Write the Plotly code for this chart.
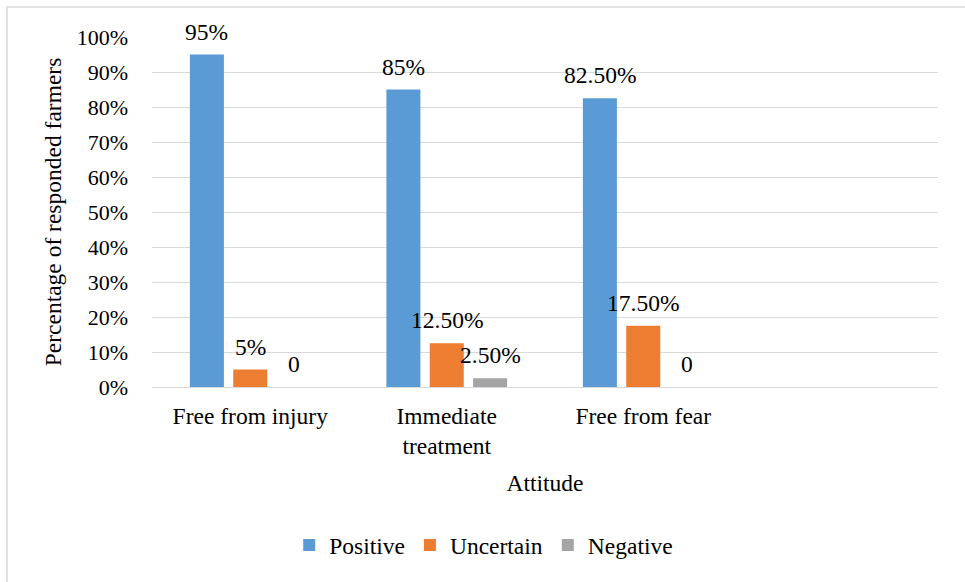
import plotly.graph_objects as go

# Survey results: farmers' attitude toward animal welfare aspects
categories = ["Free from injury", "Immediate<br>treatment", "Free from fear"]
positive = [0.95, 0.85, 0.825]
uncertain = [0.05, 0.125, 0.175]
negative = [0.0, 0.025, 0.0]

series_names = ["Positive", "Uncertain", "Negative"]
series_values = [positive, uncertain, negative]
series_colors = ["#5B9BD5", "#ED7D31", "#A5A5A5"]

y_tick_values = [i / 10 for i in range(11)]

FONT = "Liberation Serif"
FS = 23.5       # labels, titles, legend
FS_TICK_Y = 22  # percentage ticks
BARGAP = 0.338
BARGROUPGAP = 0.215


def label_of(v):
    if v == 0:
        return "0"
    pct = v * 100
    if abs(pct - round(pct)) < 1e-9:
        return f"{int(round(pct))}%"
    return f"{pct:.2f}%"


# numeric category positions; a fourth empty slot keeps the plot wide
x_pos = list(range(len(categories)))

fig = go.Figure()
for name, vals, color in zip(series_names, series_values, series_colors):
    fig.add_trace(go.Bar(
        name=name,
        x=x_pos,
        y=vals,
        marker=dict(color=color, line=dict(width=0)),
    ))

# value labels above each bar, centred on the grouped bar slots
n_series = len(series_names)
slot = (1 - BARGAP) / n_series
for k, vals in enumerate(series_values):
    shift = (k - (n_series - 1) / 2) * slot
    for xi, v in zip(x_pos, vals):
        fig.add_annotation(
            x=xi + shift, y=v, xref="x", yref="y",
            text=label_of(v), showarrow=False,
            xanchor="center", yanchor="bottom", yshift=8,
            font=dict(family=FONT, size=FS, color="#000000"),
        )

fig.update_layout(
    width=965,
    height=582,
    barmode="group",
    bargap=BARGAP,
    bargroupgap=BARGROUPGAP,
    paper_bgcolor="white",
    plot_bgcolor="white",
    margin=dict(l=152, r=27, t=37, b=194.5),
    font=dict(family=FONT, size=FS, color="#000000"),
    showlegend=True,
    legend=dict(
        orientation="h",
        x=0.422, xanchor="center",
        y=-0.452, yanchor="middle",
        font=dict(family=FONT, size=FS),
        itemwidth=30,
        traceorder="normal",
    ),
    xaxis=dict(
        range=[-0.5, 3.5],
        tickmode="array",
        tickvals=x_pos,
        ticktext=categories,
        showgrid=False,
        zeroline=False,
        showline=False,
        ticks="",
        ticklabelstandoff=12,
        tickfont=dict(family=FONT, size=FS),
        title=dict(text="Attitude", font=dict(family=FONT, size=FS), standoff=16),
    ),
    yaxis=dict(
        range=[0, 1.0],
        tickmode="array",
        tickvals=y_tick_values,
        tickformat=".0%",
        showgrid=True,
        gridcolor="#D9D9D9",
        gridwidth=1.3,
        zeroline=True,
        zerolinecolor="#D9D9D9",
        zerolinewidth=1.3,
        showline=False,
        ticks="",
        ticklabelstandoff=23,
        tickfont=dict(family=FONT, size=FS_TICK_Y),
        title=dict(text="Percentage of responded farmers",
                   font=dict(family=FONT, size=FS), standoff=8),
    ),
)

# chart frame
fig.add_shape(
    type="rect", xref="paper", yref="paper",
    x0=(7 - 152) / 786, x1=(975 - 152) / 786,
    y0=(387.5 - 590) / 350.5, y1=(387.5 - 7) / 350.5,
    line=dict(color="#D9D9D9", width=1.5),
    fillcolor="rgba(0,0,0,0)",
    layer="below",
)

fig.write_html("out.html")
